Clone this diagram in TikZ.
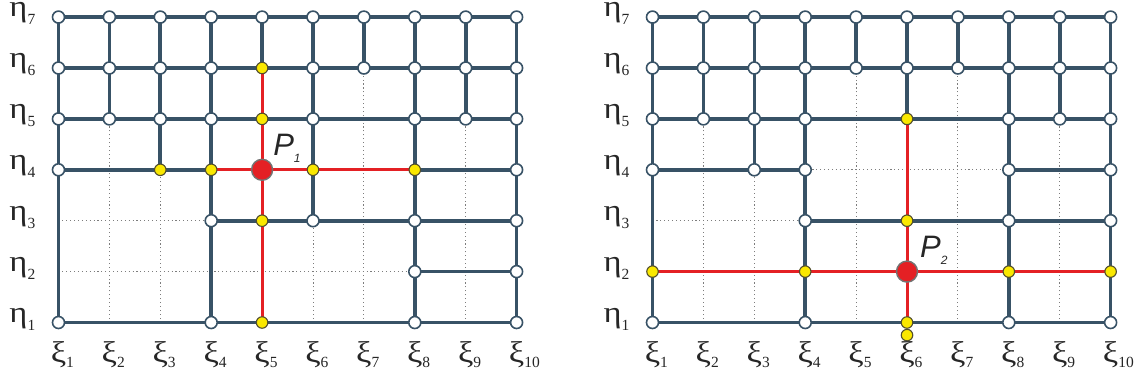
\documentclass[tikz,border=0pt]{standalone}
\usepackage{fontspec}
\usepackage{graphicx}
\setmainfont{Liberation Serif}
\newfontfamily\labelsans{Liberation Sans}
\usetikzlibrary{positioning}
\definecolor{gridblue}{RGB}{56,82,102}
\definecolor{pathred}{RGB}{228,32,36}
\definecolor{hityellow}{RGB}{250,232,0}
\definecolor{dotgray}{RGB}{125,125,125}
\newcommand{\etalab}[1]{\scalebox{1.15}[1]{η}\raisebox{-8pt}{\fontsize{15.5}{15.5}\selectfont #1}}
\newcommand{\xilab}[1]{\scalebox{1.15}[1]{ξ}\rlap{\raisebox{-5pt}{\fontsize{15.5}{15.5}\selectfont #1}}}

\begin{document}
\begin{tikzpicture}[x=50.9pt,y=50.9pt,
		wire/.style={gridblue,line width=3.6pt},
		rwire/.style={pathred,line width=3pt},
		ghost/.style={dotgray,line width=0.9pt,dash pattern=on 1.1pt off 2.8pt},
		vtx/.style={circle,draw=gridblue,fill=white,line width=1.6pt,inner sep=0pt,minimum size=12pt},
		hit/.style={circle,draw=black!55!olive,fill=hityellow,line width=1.1pt,inner sep=0pt,minimum size=11.5pt},
		pnode/.style={circle,draw=black!55,fill=pathred,line width=1.4pt,inner sep=0pt,minimum size=21pt},
		axlab/.style={font=\fontsize{30}{30}\selectfont,text=black!85,inner sep=0pt,text height=14pt,text depth=8pt},
		plab/.style={font=\labelsans\itshape\fontsize{31}{31}\selectfont,text=black!85,inner sep=0pt,anchor=base west}]
	\useasboundingbox (0,0) rectangle (22.357,7.623);
	
	% Left mesh, path through P1.
	\begin{scope}[shift={(1.149,1.287)}]
		\foreach \i in {1,...,10}
		\foreach \j in {1,...,7}
		\coordinate (a\i-\j) at (\i-1,\j-1);
		\foreach \j in {1,...,7} \draw[ghost] (a1-\j) -- (a10-\j);
		\foreach \i in {1,...,10} \draw[ghost] (a\i-1) -- (a\i-7);
		\foreach \s/\t in {1-7/10-7,1-6/10-6,1-5/10-5,1-4/4-4,8-4/10-4,4-3/10-3,8-2/10-2,1-1/10-1,
			1-1/1-7,2-5/2-7,3-4/3-7,4-1/4-7,5-6/5-7,6-3/6-7,7-6/7-7,8-1/8-7,9-5/9-7,10-1/10-7}
		\draw[wire] (a\s) -- (a\t);
		\draw[rwire] (a5-1) -- (a5-6);
		\draw[rwire] (a4-4) -- (a8-4);
		\foreach \v in {1-7,2-7,3-7,4-7,5-7,6-7,7-7,8-7,9-7,10-7,
			1-6,2-6,3-6,4-6,6-6,7-6,8-6,9-6,10-6,1-5,2-5,3-5,4-5,6-5,8-5,9-5,10-5,
			1-4,10-4,4-3,6-3,8-3,10-3,8-2,10-2,1-1,4-1,8-1,10-1}
		\node[vtx] (va\v) at (a\v) {};
		\foreach \v in {5-6,5-5,3-4,4-4,6-4,8-4,5-3,5-1}
		\node[hit] (va\v) at (a\v) {};
		\node[pnode] (va5-4) at (a5-4) {};
		\node[plab] (p1) at ([xshift=11pt,yshift=14pt]va5-4.center) {P\raisebox{-7pt}{\fontsize{12}{12}\selectfont 1}};
		\foreach \j in {1,...,7}
		\node[axlab,anchor=base east] (etaa\j) at ([xshift=-23pt,yshift=0.5pt]a1-\j) {\etalab{\j}};
		\foreach \i in {1,...,10}
		\node[axlab,anchor=base] (xia\i) at ([yshift=-39.5pt]a\i-1) {\xilab{\i}};
	\end{scope}
	
	% Right mesh, path through P2.
	\begin{scope}[shift={(12.819,1.287)}]
		\foreach \i in {1,...,10}
		\foreach \j in {1,...,7}
		\coordinate (b\i-\j) at (\i-1,\j-1);
		\foreach \j in {1,...,7} \draw[ghost] (b1-\j) -- (b10-\j);
		\foreach \i in {1,...,10} \draw[ghost] (b\i-1) -- (b\i-7);
		\foreach \s/\t in {1-7/10-7,1-6/10-6,1-5/10-5,1-4/4-4,8-4/10-4,4-3/10-3,1-1/10-1,
			1-1/1-7,2-5/2-7,3-4/3-7,4-1/4-7,5-6/5-7,6-5/6-7,7-6/7-7,8-1/8-7,9-5/9-7,10-1/10-7}
		\draw[wire] (b\s) -- (b\t);
		\draw[rwire] (b1-2) -- (b10-2);
		\draw[rwire] (b6-1) -- (b6-5);
		\foreach \v in {1-7,2-7,3-7,4-7,5-7,6-7,7-7,8-7,9-7,10-7,
			1-6,2-6,3-6,4-6,5-6,6-6,7-6,8-6,9-6,10-6,1-5,2-5,3-5,4-5,8-5,9-5,10-5,
			1-4,3-4,4-4,8-4,10-4,4-3,8-3,10-3,1-1,4-1,8-1,10-1}
		\node[vtx] (vb\v) at (b\v) {};
		\foreach \v in {6-5,6-3,1-2,4-2,8-2,10-2,6-1}
		\node[hit] (vb\v) at (b\v) {};
		\node[hit,below=0pt of vb6-1] (vb6-0) {};
		\node[pnode] (vb6-2) at (b6-2) {};
		\node[plab] (p2) at ([xshift=13pt,yshift=14pt]vb6-2.center) {P\raisebox{-7pt}{\fontsize{12}{12}\selectfont 2}};
		\foreach \j in {1,...,7}
		\node[axlab,anchor=base east] (etab\j) at ([xshift=-23pt,yshift=0.5pt]b1-\j) {\etalab{\j}};
		\foreach \i in {1,...,10}
		\node[axlab,anchor=base] (xib\i) at ([yshift=-39.5pt]b\i-1) {\xilab{\i}};
	\end{scope}
\end{tikzpicture}
\end{document}
